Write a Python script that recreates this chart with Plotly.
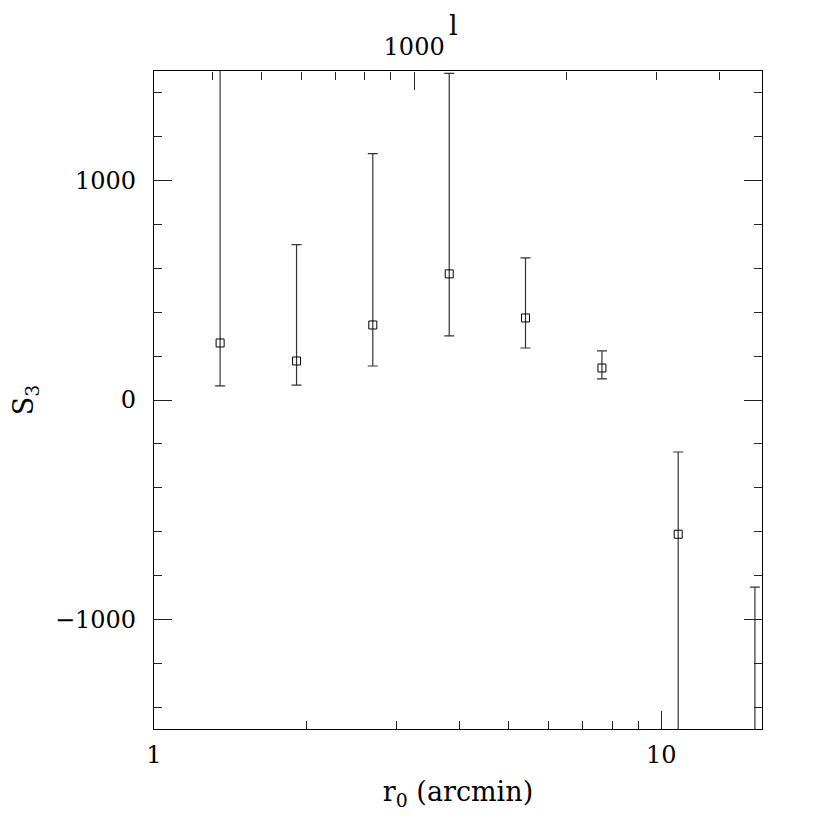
import plotly.graph_objects as go
import math

# data
r0 = [1.35, 1.91, 2.70, 3.82, 5.40, 7.64, 10.8, 15.3]
s3 = [260, 178, 342, 575, 374, 146, -612, -1900]
err_plus = [1400, 530, 781, 914, 274, 78, 375, 1047]
err_minus = [196, 110, 187, 283, 137, 50, 1200, 800]

x_ticks = [1, 10]
x_minor = [2, 3, 4, 5, 6, 7, 8, 9]
l_ticks = [1000]
l_minor = [400, 500, 600, 700, 800, 900, 2000, 3000, 4000]
y_ticks = [-1000, 0, 1000]

FONT = "DejaVu Serif"
FS = 24
TFS = 27
TC = "#222"

fig = go.Figure()
fig.add_trace(go.Scatter(
    x=r0, y=s3, mode="markers",
    marker=dict(symbol="square-open", size=8, color="black", line=dict(width=1, color="black")),
    error_y=dict(type="data", array=err_plus, arrayminus=err_minus, symmetric=False,
                 color="#333333", thickness=1.2, width=5),
    showlegend=False,
))
# invisible traces carrying the top (l) axes
fig.add_trace(go.Scatter(x=[1000], y=[0], xaxis="x2", yaxis="y", mode="markers",
                         marker=dict(opacity=0), showlegend=False, hoverinfo="skip"))
fig.add_trace(go.Scatter(x=[1000], y=[0], xaxis="x3", yaxis="y", mode="markers",
                         marker=dict(opacity=0), showlegend=False, hoverinfo="skip"))

xmax = math.log10(15.8)
# top axis: l = 1000 at r0 ~ 3.26
r_at_1000 = 10 ** (260 / 507)
l_lo = math.log10(1000 / r_at_1000)
l_hi = l_lo + xmax

fig.update_layout(
    width=830, height=830,
    margin=dict(l=146, r=76, t=63, b=109),
    plot_bgcolor="rgba(0,0,0,0)", paper_bgcolor="white",
    font=dict(family=FONT, size=FS, color="black"),
    xaxis=dict(
        type="log", range=[0, xmax], automargin=False,
        tickvals=x_ticks, ticktext=[str(v) for v in x_ticks],
        ticks="inside", ticklen=18, tickwidth=1, tickcolor=TC,
        minor=dict(tickvals=x_minor, ticks="inside", ticklen=8, tickwidth=1, tickcolor=TC),
        showline=True, linecolor="black", linewidth=1.2, mirror=False,
        showgrid=False, zeroline=False,
        ticklabelstandoff=4,
        title=dict(text="r<sub>0</sub> (arcmin)", font=dict(family=FONT, size=TFS), standoff=14),
    ),
    # top l axis ticks: drawn from the top edge downward
    xaxis2=dict(
        type="log", range=[l_lo, l_hi], overlaying="x", side="bottom",
        anchor="free", position=1.0, automargin=False,
        tickvals=l_ticks, showticklabels=False,
        ticks="outside", ticklen=18, tickwidth=1, tickcolor=TC,
        minor=dict(tickvals=l_minor, ticks="outside", ticklen=8, tickwidth=1, tickcolor=TC),
        showline=False, showgrid=False, zeroline=False,
    ),
    # top l axis labels
    xaxis3=dict(
        type="log", range=[l_lo, l_hi], overlaying="x", side="top", anchor="y",
        automargin=False,
        tickvals=l_ticks, ticktext=[str(v) for v in l_ticks], ticks="",
        showline=True, linecolor="black", linewidth=1.2,
        showgrid=False, zeroline=False,
        ticklabelstandoff=5,
    ),
    yaxis=dict(
        range=[-1500, 1500], automargin=False,
        tickvals=y_ticks, ticktext=["\u22121000", "0", "1000"],
        ticks="inside", ticklen=18, tickwidth=1, tickcolor=TC,
        minor=dict(dtick=200, ticks="inside", ticklen=8, tickwidth=1, tickcolor=TC),
        showline=True, linecolor="black", linewidth=1.2, mirror="ticks",
        showgrid=False, zeroline=False,
        ticklabelstandoff=12,
        title=dict(text="S<sub>3</sub>", font=dict(family=FONT, size=TFS), standoff=40),
    ),
    annotations=[dict(
        text="l", xref="paper", yref="paper", x=0.493, y=1.0,
        xanchor="center", yanchor="middle", yshift=46, showarrow=False,
        font=dict(family=FONT, size=TFS, color="black"),
    )],
)

fig.write_html("out.html")
